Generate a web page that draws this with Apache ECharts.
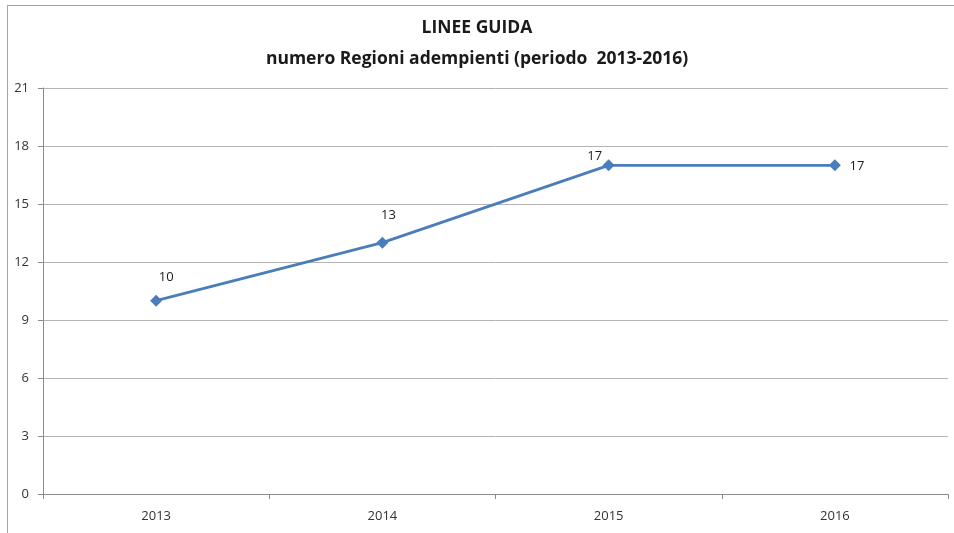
<!DOCTYPE html>
<html><head><meta charset="utf-8">
<script src="https://cdn.jsdelivr.net/npm/echarts@6/dist/echarts.min.js"></script>
<style>
html,body{margin:0;padding:0;background:#fff;}
#c{width:954px;height:533px;position:relative;}
#frame{position:absolute;left:7px;top:5px;width:960px;height:560px;border:1px solid #a6a6a6;box-sizing:border-box;pointer-events:none;}
</style></head>
<body>
<div id="c"></div>
<div id="frame"></div>
<script>
const titleLines = ['LINEE GUIDA', 'numero Regioni adempienti (periodo  2013-2016)'];
const categories = ['2013', '2014', '2015', '2016'];
const values = [10, 13, 17, 17];
const labelPositions = [[10, -23], [6, -27], [-14, -9], [22, 1]];

const chart = echarts.init(document.getElementById('c'), null, {renderer: 'canvas'});
chart.setOption({
  animation: false,
  backgroundColor: '#fff',
  textStyle: {fontFamily: 'Open Sans'},
  title: {
    text: titleLines.join('\n'),
    left: 'center', top: 8,
    padding: [5, 0, 5, 16],
    textStyle: {fontFamily: 'Open Sans', fontSize: 17.5, fontWeight: 'bold', color: '#1a1a1a', lineHeight: 31}
  },
  grid: {left: 43, right: 6, top: 88, bottom: 39, containLabel: false},
  xAxis: {
    type: 'category', data: categories, boundaryGap: true,
    axisLine: {lineStyle: {color: '#8c8c8c', width: 1}},
    axisTick: {show: true, length: 5, alignWithLabel: false, lineStyle: {color: '#8c8c8c'}},
    axisLabel: {color: '#333', fontSize: 13, margin: 16, fontFamily: 'Open Sans'}
  },
  yAxis: {
    type: 'value', min: 0, max: 21, interval: 3,
    axisLine: {show: true, lineStyle: {color: '#8c8c8c', width: 1}},
    axisTick: {show: true, length: 5, lineStyle: {color: '#8c8c8c'}},
    axisLabel: {color: '#333', fontSize: 13, margin: 14, fontFamily: 'Open Sans'},
    splitLine: {lineStyle: {color: '#b4b4b4', width: 1}}
  },
  series: [{
    type: 'line',
    data: values.map((v, i) => ({
      value: v,
      label: {show: true, position: 'inside', offset: labelPositions[i]}
    })),
    symbol: 'diamond', symbolSize: 12,
    lineStyle: {color: '#4a7ebb', width: 2.75},
    itemStyle: {color: '#4a7ebb'},
    label: {color: '#1a1a1a', fontSize: 13, fontFamily: 'Open Sans'}
  }]
});
</script>
</body></html>
